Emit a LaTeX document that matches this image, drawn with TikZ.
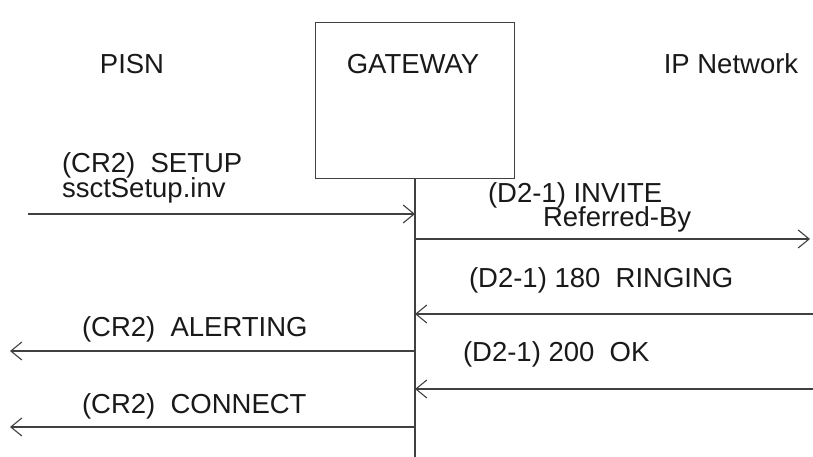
\documentclass[tikz,border=0pt]{standalone}
\usepackage{fontspec}
\setmainfont{Liberation Sans}
\usetikzlibrary{arrows.meta}
\tikzset{
  lbl/.style={anchor=base west, inner sep=0pt, outer sep=0pt, font=\fontsize{27.5}{32}\selectfont, text=black!90},
  hdr/.style={anchor=base, inner sep=0pt, outer sep=0pt, font=\fontsize{27.5}{32}\selectfont, text=black!90},
  msg/.style={draw=black!75, line width=1.1pt, -{Straight Barb[length=11pt,width=18pt,line width=1.1pt]}},
  life/.style={draw=black!75, line width=1.1pt},
}
\begin{document}
\begin{tikzpicture}[x=1pt,y=-1pt]
\useasboundingbox (0,0) rectangle (813,457);
% header
\node[hdr] (pisn) at (132,74) {PISN};
\node[draw=black!75, line width=0.9pt, minimum width=199pt, minimum height=156pt, inner sep=0pt] (gwbox) at (414.5,100.5) {};
\node[hdr] (gw) at (413,74) {GATEWAY};
\node[hdr] (ipn) at (731,74) {IP Network};
% lifeline
\coordinate (gwtop) at (415,179);
\coordinate (gwbot) at (415,457);
\draw[life] (gwtop) -- (gwbot);
% end points
\coordinate (s1) at (28,214);  \coordinate (g1) at (415,214);
\coordinate (g2) at (415,239); \coordinate (i2) at (810,239);
\coordinate (i3) at (813,314); \coordinate (g3) at (415,314);
\coordinate (g4) at (415,351); \coordinate (p4) at (10,351);
\coordinate (i5) at (813,389); \coordinate (g5) at (415,389);
\coordinate (g6) at (415,427); \coordinate (p6) at (10,427);
% messages
\draw[msg] (s1) -- (g1);
\draw[msg] (g2) -- (i2);
\draw[msg] (i3) -- (g3);
\draw[msg] (g4) -- (p4);
\draw[msg] (i5) -- (g5);
\draw[msg] (g6) -- (p6);
% labels
\node[lbl] (t1a) at (62,172) {(CR2)\ \ SETUP};
\node[lbl] (t1b) at (62,197) {ssctSetup.inv};
\node[lbl] (t2a) at (488,202) {(D2-1) INVITE};
\node[lbl] (t2b) at (543,226) {Referred-By};
\node[lbl] (t3) at (469,287) {(D2-1) 180\ \ RINGING};
\node[lbl] (t4) at (82,336) {(CR2)\ \ ALERTING};
\node[lbl] (t5) at (463,361) {(D2-1) 200\ \ OK};
\node[lbl] (t6) at (82,413) {(CR2)\ \ CONNECT};
\end{tikzpicture}
\end{document}
